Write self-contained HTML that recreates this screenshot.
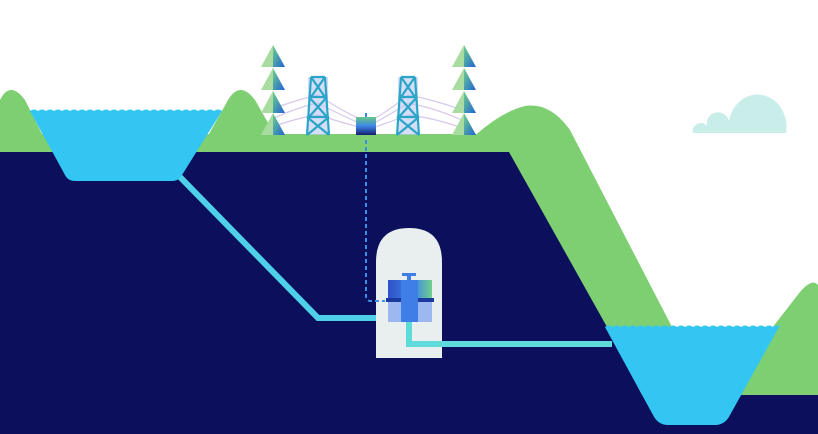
<!DOCTYPE html>
<html><head><meta charset="utf-8"><style>html,body{margin:0;padding:0;background:#fff}svg{display:block}</style></head>
<body>
<svg width="818" height="434" viewBox="0 0 818 434" xmlns="http://www.w3.org/2000/svg">
<defs>
<linearGradient id="tg" x1="0" y1="0" x2="1" y2="1"><stop offset="0" stop-color="#6fd08a"/><stop offset="1" stop-color="#1f63d6"/></linearGradient>
<linearGradient id="bx" x1="0" y1="0" x2="0" y2="1"><stop offset="0" stop-color="#66c98a"/><stop offset="0.5" stop-color="#3f86e6"/><stop offset="1" stop-color="#14206e"/></linearGradient>
<linearGradient id="tb" x1="0" y1="0" x2="1" y2="0"><stop offset="0" stop-color="#2f4fc8"/><stop offset="0.6" stop-color="#3f8ae8"/><stop offset="1" stop-color="#6fd08a"/></linearGradient>
<g id="tree"><polygon points="0,0 -12,22 0,22" fill="#a8dca0"/><polygon points="0,0 12,22 0,22" fill="url(#tg)"/></g>
<g id="pyl" fill="none" stroke="#2aa5c8" stroke-width="2.2">
<rect x="-10" y="0" width="20" height="58" fill="#b8c8f0" stroke="none" opacity="0.6"/>
<path d="M-7,0 L7,0 M-7,0 L7,20 M7,0 L-7,20 M-9,20 L9,20 M-9,20 L9,40 M9,20 L-9,40 M-11,40 L11,40 M-11,40 L11,58 M11,40 L-11,58 M-7,0 L-11,58 M7,0 L11,58"/>
</g>
</defs>
<!-- cloud -->
<path d="M693,133 A8,8 0 0 1 707,126 A11,11 0 0 1 729,121 A25,28 0 0 1 786,133 Z" fill="#c9eeea"/>
<!-- power lines -->
<g stroke="#d6c8ec" stroke-width="1.2" fill="none">
<path d="M270,110 Q295,100 318,95 M270,120 Q295,108 318,103 M270,128 Q295,118 318,115"/>
<path d="M318,95 Q340,110 362,120 M318,103 Q340,115 362,124 M318,115 Q340,122 362,128"/>
<path d="M372,120 Q390,110 408,95 M372,124 Q390,115 408,103 M372,128 Q390,122 408,115"/>
<path d="M408,95 Q435,100 462,110 M408,103 Q435,108 462,120 M408,115 Q435,118 462,128"/>
</g>
<!-- green ground strip and hills -->
<rect x="0" y="134" width="520" height="20" fill="#7dcf72"/>
<path d="M0,100 Q10,80 25,100 L50,150 L0,150 Z" fill="#7dcf72"/>
<path d="M200,150 L228,100 Q240,80 255,100 L275,135 L275,150 Z" fill="#7dcf72"/>
<path d="M470,140 Q500,112 525,106 Q550,102 570,130 L672,327 L600,327 L509,152 Z" fill="#7dcf72"/>
<path d="M720,395 L800,292 Q812,278 818,285 L818,395 Z" fill="#7dcf72"/>
<!-- navy ground -->
<path d="M0,152 L509,152 L607,327 L655,420 L655,434 L0,434 Z" fill="#0c0f5c"/>
<rect x="600" y="395" width="218" height="39" fill="#0c0f5c"/>
<!-- upper reservoir -->
<path d="M30,111 L222,111 L182,175 Q179,181 172,181 L75,181 Q68,181 65,175 Z" fill="#33c6f2"/>
<path d="M30,111 q4,-3 8,0 q4,-3 8,0 q4,-3 8,0 q4,-3 8,0 q4,-3 8,0 q4,-3 8,0 q4,-3 8,0 q4,-3 8,0 q4,-3 8,0 q4,-3 8,0 q4,-3 8,0 q4,-3 8,0 q4,-3 8,0 q4,-3 8,0 q4,-3 8,0 q4,-3 8,0 q4,-3 8,0 q4,-3 8,0 q4,-3 8,0 q4,-3 8,0 q4,-3 8,0 q4,-3 8,0 q4,-3 8,0 q4,-3 8,0 Z" fill="#33c6f2"/>
<!-- lower reservoir -->
<path d="M605,327 L779,327 L730,415 Q725,425 715,425 L668,425 Q658,425 653,415 Z" fill="#33c6f2"/>
<path d="M605,327 q4,-3 8,0 q4,-3 8,0 q4,-3 8,0 q4,-3 8,0 q4,-3 8,0 q4,-3 8,0 q4,-3 8,0 q4,-3 8,0 q4,-3 8,0 q4,-3 8,0 q4,-3 8,0 q4,-3 8,0 q4,-3 8,0 q4,-3 8,0 q4,-3 8,0 q4,-3 8,0 q4,-3 8,0 q4,-3 8,0 q4,-3 8,0 q4,-3 8,0 q4,-3 8,0 q4,-3 8,0 Z" fill="#33c6f2"/>
<!-- penstock -->
<polyline points="180,177 318,318 380,318" fill="none" stroke="#4fd0ea" stroke-width="6"/>
<!-- powerhouse -->
<path d="M376,358 L376,262 Q376,228 409,228 Q442,228 442,262 L442,358 Z" fill="#e8efee"/>
<!-- dashed control line -->
<path d="M366,140 L366,296 Q366,301 371,301 L385,301" fill="none" stroke="#3b8fe8" stroke-width="2" stroke-dasharray="4,3"/>
<!-- turbine -->
<rect x="388" y="280" width="44" height="20" fill="url(#tb)"/>
<rect x="386" y="298" width="48" height="4" fill="#1a3aa0"/>
<rect x="388" y="302" width="44" height="20" fill="#9db8f0"/>
<rect x="401" y="280" width="17" height="42" fill="#3f7ee6"/>
<rect x="407" y="274" width="4" height="8" fill="#3f7ee6"/>
<rect x="402" y="273" width="14" height="3" fill="#3f7ee6"/>
<!-- tailrace -->
<polyline points="409,322 409,344 612,344" fill="none" stroke="#5fdada" stroke-width="6"/>
<!-- trees -->
<use href="#tree" x="273" y="45"/><use href="#tree" x="273" y="68"/><use href="#tree" x="273" y="91"/><use href="#tree" x="273" y="113"/>
<use href="#tree" x="464" y="45"/><use href="#tree" x="464" y="68"/><use href="#tree" x="464" y="91"/><use href="#tree" x="464" y="113"/>
<!-- pylons -->
<use href="#pyl" x="318" y="77"/><use href="#pyl" x="408" y="77"/>
<!-- box -->
<rect x="356" y="117" width="20" height="18" fill="url(#bx)"/>
<rect x="365" y="113" width="2" height="4" fill="#3f86e6"/>
</svg>
</body></html>
